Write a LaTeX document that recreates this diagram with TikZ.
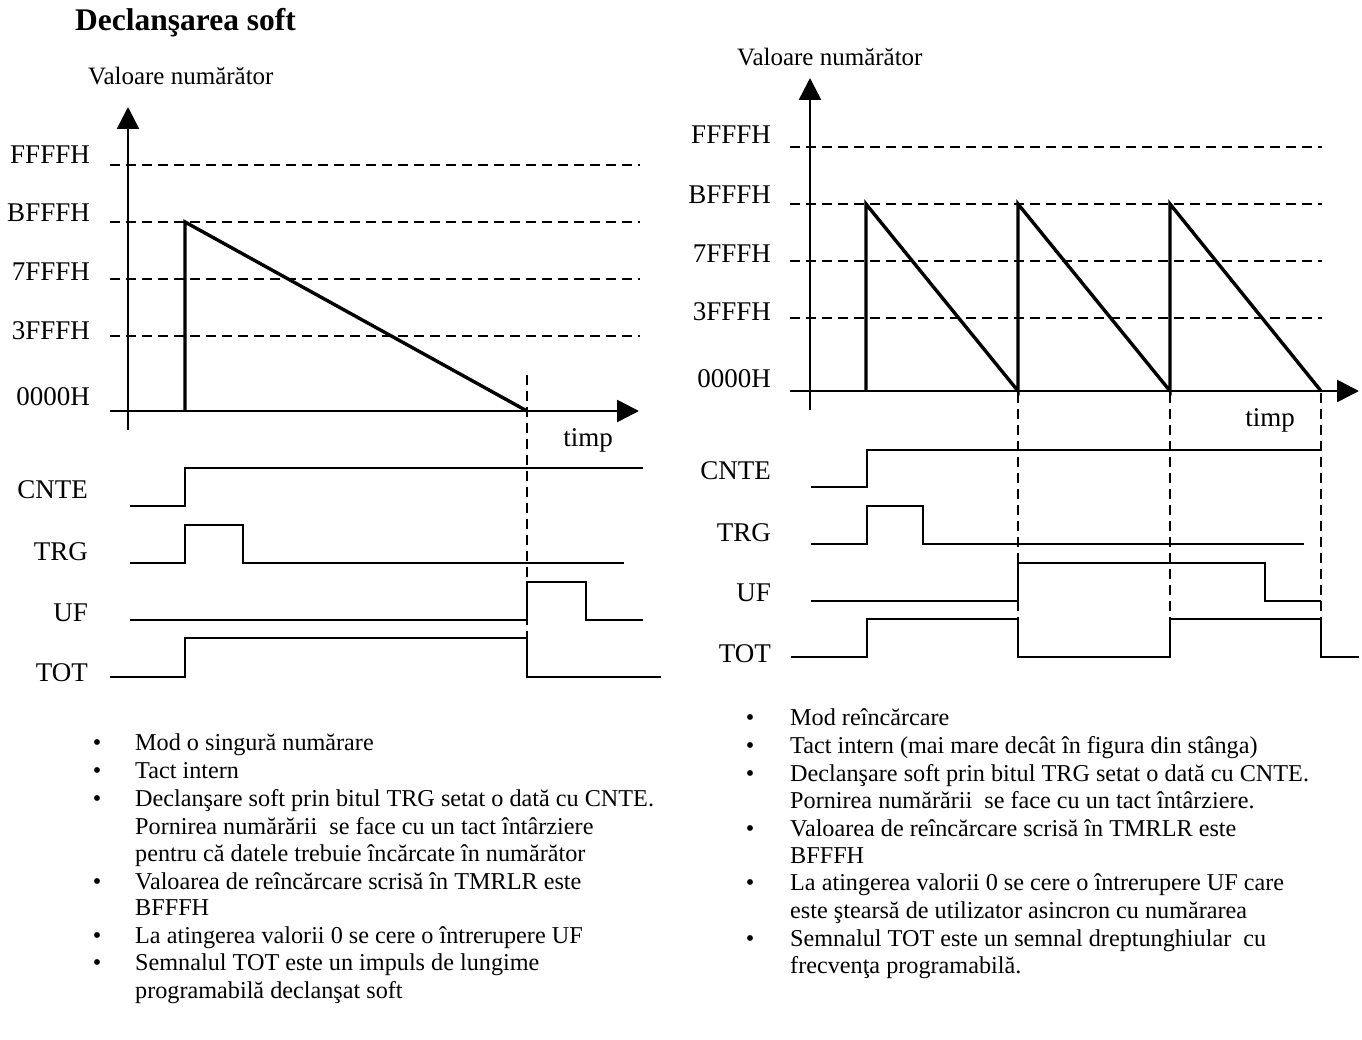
\documentclass[tikz,border=0pt]{standalone}
\usepackage{fontspec}
\setmainfont{Liberation Serif}
\usetikzlibrary{arrows.meta}
\begin{document}
\begin{tikzpicture}[x=1pt,y=-1pt,
  txt/.style={font=\fontsize{24.2}{28}\selectfont, inner sep=0pt},
  big/.style={font=\fontsize{27}{31}\selectfont, inner sep=0pt},
  lbl/.style={big, anchor=east},
  ln/.style={txt, anchor=base west},
  bul/.style={txt, anchor=base},
  sig/.style={line width=2.6pt, line join=miter},
  ramp/.style={line width=3.4pt, line join=miter},
  axis/.style={line width=2.6pt, -{Triangle[length=22pt,width=22pt]}},
  hgrid/.style={line width=2.4pt, dash pattern=on 10pt off 6pt},
  vmark/.style={line width=2.2pt, dash pattern=on 10pt off 6pt}]
\useasboundingbox (0,0) rectangle (1362,1040);
\fill[white] (0,0) rectangle (1362,1040);

% title
\node[font=\fontsize{31.5}{36}\selectfont\bfseries, inner sep=0pt, anchor=base west] (title) at (75,31) {Declanşarea soft};

% ================= LEFT PANEL =================
\node[ln, font=\fontsize{25}{29}\selectfont] (vL) at (88,85) {Valoare numărător};
\coordinate (yLb) at (128,430); \coordinate (yLt) at (128,107);
\draw[axis] (yLb) -- (yLt);
\foreach \yy/\nm in {165/F,222/B,279/S,336/T}{
  \coordinate (gL\nm a) at (110,\yy); \coordinate (gL\nm b) at (640,\yy);
  \draw[hgrid] (gL\nm a) -- (gL\nm b);
}
\coordinate (xLa) at (110,411); \coordinate (xLt) at (639,411);
\draw[axis] (xLa) -- (xLt);
\node[lbl] (lF) at (90,155) {FFFFH};
\node[lbl] (lB) at (90,213) {BFFFH};
\node[lbl] (l7) at (90,272) {7FFFH};
\node[lbl] (l3) at (90,331) {3FFFH};
\node[lbl] (l0) at (90,397) {0000H};
\node[big] (tL) at (588,440) {timp};
% ramp
\coordinate (rL0) at (185,411); \coordinate (rL1) at (185,222); \coordinate (rL2) at (527,411);
\draw[ramp] (rL0) -- (rL1) -- (rL2);
\coordinate (mLa) at (527,375); \coordinate (mLb) at (527,638);
\draw[vmark] (mLa) -- (mLb);
% signals
\node[lbl] (cnteL) at (88,490) {CNTE};
\node[lbl] (trgL) at (88,552) {TRG};
\node[lbl] (ufL) at (88,613) {UF};
\node[lbl] (totL) at (88,673) {TOT};
\draw[sig] (130,506) -- (185,506) -- (185,468) -- (643,468);
\draw[sig] (130,563) -- (185,563) -- (185,525) -- (243,525) -- (243,563) -- (624,563);
\draw[sig] (130,620) -- (527,620) -- (527,582) -- (586,582) -- (586,620) -- (643,620);
\draw[sig] (110,677) -- (185,677) -- (185,638) -- (527,638) -- (527,677) -- (661,677);

% left bullet list
\foreach \yy in {742,770,798,881,935,962}{ \node[bul] at (97,\yy+8) {•}; }
\node[ln] (L1) at (135,750) {Mod o singură numărare};
\node[ln] (L2) at (135,778) {Tact intern};
\node[ln] (L3) at (135,806) {Declanşare soft prin bitul TRG setat o dată cu CNTE.};
\node[ln] (L4) at (135,834) {Pornirea numărării\ \ se face cu un tact întârziere};
\node[ln] (L5) at (135,861) {pentru că datele trebuie încărcate în numărător};
\node[ln] (L6) at (135,889) {Valoarea de reîncărcare scrisă în TMRLR este};
\node[ln] (L7) at (135,915) {BFFFH};
\node[ln] (L8) at (135,943) {La atingerea valorii 0 se cere o întrerupere UF};
\node[ln] (L9) at (135,970) {Semnalul TOT este un impuls de lungime};
\node[ln] (L10) at (135,998) {programabilă declanşat soft};

% ================= RIGHT PANEL =================
\node[ln, font=\fontsize{25}{29}\selectfont] (vR) at (737,66) {Valoare numărător};
\coordinate (yRb) at (810,410); \coordinate (yRt) at (810,78);
\draw[axis] (yRb) -- (yRt);
\foreach \yy/\nm in {147/F,204/B,261/S,318/T}{
  \coordinate (gR\nm a) at (790,\yy); \coordinate (gR\nm b) at (1322,\yy);
  \draw[hgrid] (gR\nm a) -- (gR\nm b);
}
\coordinate (xRa) at (790,391); \coordinate (xRt) at (1359,391);
\draw[axis] (xRa) -- (xRt);
\node[lbl] (rF) at (771,135) {FFFFH};
\node[lbl] (rB) at (771,195) {BFFFH};
\node[lbl] (r7) at (771,254) {7FFFH};
\node[lbl] (r3) at (771,312) {3FFFH};
\node[lbl] (r0) at (771,379) {0000H};
\node[big] (tR) at (1270,420) {timp};
\draw[ramp] (866,391) -- (866,204) -- (1018,391) -- (1018,204) -- (1170,391) -- (1170,204) -- (1321,391);
\foreach \xx in {1018,1170,1321}{ \draw[vmark] (\xx,393) -- (\xx,619); }
\node[lbl] (cnteR) at (771,471) {CNTE};
\node[lbl] (trgR) at (771,533) {TRG};
\node[lbl] (ufR) at (771,593) {UF};
\node[lbl] (totR) at (771,654) {TOT};
\draw[sig] (811,487) -- (867,487) -- (867,450) -- (1322,450);
\draw[sig] (811,544) -- (867,544) -- (867,506) -- (923,506) -- (923,544) -- (1304,544);
\draw[sig] (811,601) -- (1018,601) -- (1018,563) -- (1265,563) -- (1265,601) -- (1321,601);
\draw[sig] (791,657) -- (867,657) -- (867,619) -- (1018,619) -- (1018,657) -- (1170,657) -- (1170,619) -- (1321,619) -- (1321,657) -- (1359,657);

% right bullet list
\foreach \yy in {717,745,773,828,882,938}{ \node[bul] at (750,\yy+8) {•}; }
\node[ln] (R1) at (790,725) {Mod reîncărcare};
\node[ln] (R2) at (790,753) {Tact intern (mai mare decât în figura din stânga)};
\node[ln] (R3) at (790,781) {Declanşare soft prin bitul TRG setat o dată cu CNTE.};
\node[ln] (R4) at (790,808) {Pornirea numărării\ \ se face cu un tact întârziere.};
\node[ln] (R5) at (790,836) {Valoarea de reîncărcare scrisă în TMRLR este};
\node[ln] (R6) at (790,863) {BFFFH};
\node[ln] (R7) at (790,890) {La atingerea valorii 0 se cere o întrerupere UF care};
\node[ln] (R8) at (790,918) {este ştearsă de utilizator asincron cu numărarea};
\node[ln] (R9) at (790,946) {Semnalul TOT este un semnal dreptunghiular\ \ cu};
\node[ln] (R10) at (790,973) {frecvenţa programabilă.};
\end{tikzpicture}
\end{document}
